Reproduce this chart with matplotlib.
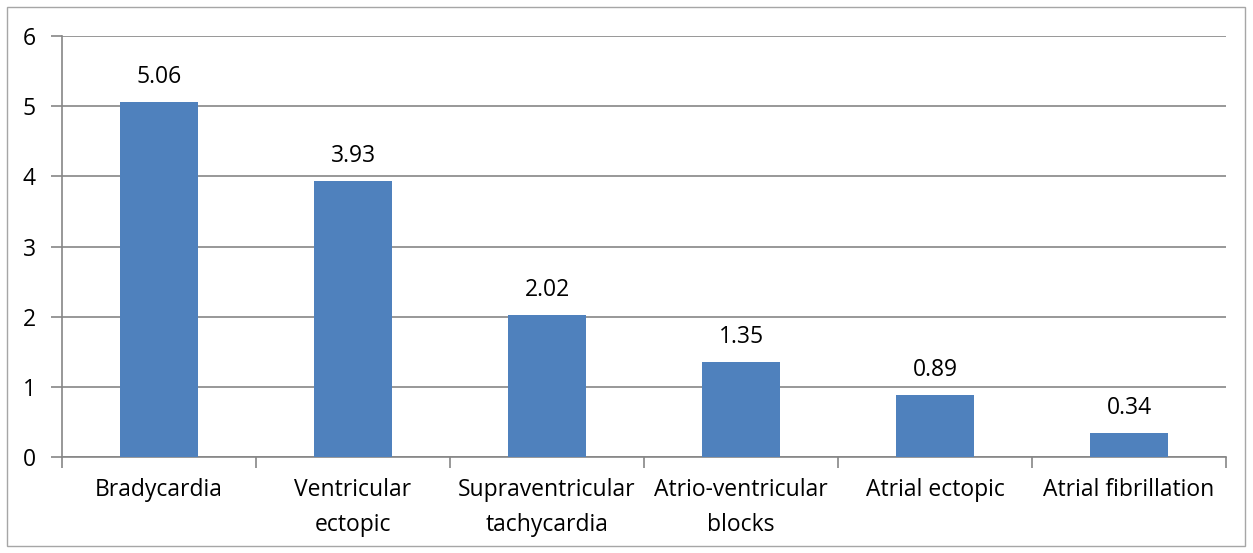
import matplotlib
matplotlib.use("Agg")
import matplotlib.pyplot as plt
from matplotlib.patches import Rectangle

categories = ["Bradycardia", "Ventricular\nectopic", "Supraventricular\ntachycardia",
              "Atrio-ventricular\nblocks", "Atrial ectopic", "Atrial fibrillation"]
values = [5.06, 3.93, 2.02, 1.35, 0.89, 0.34]
yticks = [0, 1, 2, 3, 4, 5, 6]

plt.rcParams['font.family'] = ['Open Sans', 'DejaVu Sans']
FS = 16.5

W, H = 1253, 553
fig = plt.figure(figsize=(W/100, H/100), dpi=100)
ax = fig.add_axes([62/W, 1-457/H, (1226-62)/W, (457-36)/H])

# figure border
fig.patches.append(Rectangle((7/W, 7/H), (1245-7)/W, (546-7)/H, transform=fig.transFigure,
                             fill=False, edgecolor='#a6a6a6', linewidth=1))

x = list(range(len(categories)))
ax.bar(x, values, width=0.4, color='#4F81BD', zorder=3)
for xi, v in zip(x, values):
    ax.text(xi, v + 0.27, f"{v:.2f}", ha='center', va='baseline', fontsize=FS, color='#000000')

ax.set_xlim(-0.5, len(categories) - 0.5)
ax.set_ylim(0, 6)
ax.set_yticks(yticks)
ax.set_yticklabels([str(t) for t in yticks], fontsize=FS)
ax.yaxis.grid(True, color='#868686', linewidth=1.2, zorder=0)
ax.set_axisbelow(True)

ax.set_xticks(x)
ax.set_xticklabels(categories, fontsize=FS, linespacing=1.6)
ax.tick_params(axis='x', length=0, pad=15)
# category boundary ticks
ax.set_xticks([i - 0.5 for i in range(len(categories) + 1)], minor=True)
ax.tick_params(axis='x', which='minor', length=8, color='#868686', width=1.2)
ax.tick_params(axis='y', length=8, color='#868686', width=1.2, pad=11)

for s in ['top', 'right']:
    ax.spines[s].set_visible(False)
for s in ['left', 'bottom']:
    ax.spines[s].set_color('#868686')
    ax.spines[s].set_linewidth(1.2)

fig.savefig("out.png", dpi=100)
